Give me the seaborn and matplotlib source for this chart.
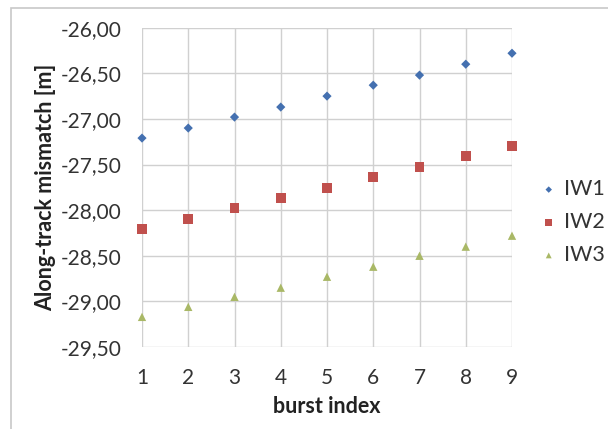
import numpy as np
import pandas as pd
import matplotlib
matplotlib.use("Agg")
import matplotlib.pyplot as plt
import seaborn as sns
from matplotlib.ticker import FuncFormatter
from matplotlib.patches import Rectangle

# Values
burst = [1, 2, 3, 4, 5, 6, 7, 8, 9]
iw1 = [-27.21, -27.10, -26.98, -26.87, -26.75, -26.63, -26.52, -26.40, -26.28]
iw2 = [-28.21, -28.10, -27.98, -27.87, -27.76, -27.64, -27.53, -27.41, -27.30]
iw3 = [-29.17, -29.06, -28.95, -28.85, -28.73, -28.62, -28.50, -28.40, -28.28]
series_names = ["IW1", "IW2", "IW3"]
yticks = [-29.5, -29.0, -28.5, -28.0, -27.5, -27.0, -26.5, -26.0]

df = pd.DataFrame({
    "burst index": burst * 3,
    "mismatch": iw1 + iw2 + iw3,
    "series": np.repeat(series_names, len(burst)),
})

sns.set_theme(style="white")
plt.rcParams["font.family"] = ["Lato", "DejaVu Sans"]

fig = plt.figure(figsize=(6.08, 4.29), dpi=100)
ax = fig.add_axes([142 / 608, 1 - 347 / 429, 370 / 608, (347 - 27.7) / 429])

# outer chart border like the spreadsheet frame
fig.patches.append(Rectangle((11 / 608, -0.02), 1, 1 - 8 / 429 + 0.02,
                             transform=fig.transFigure, fill=False,
                             edgecolor="#c8c8c8", linewidth=1.2))

palette = {"IW1": "#4470B0", "IW2": "#C0504D", "IW3": "#A9B866"}
markers = {"IW1": "D", "IW2": "s", "IW3": "^"}
sizes = {"IW1": 22, "IW2": 50, "IW3": 36}

for name in series_names:
    sub = df[df["series"] == name]
    sns.scatterplot(data=sub, x="burst index", y="mismatch", ax=ax,
                    color=palette[name], marker=markers[name], s=sizes[name],
                    edgecolor="none", label=name, clip_on=False, zorder=3)

ax.set_xlim(1, 9)
ax.set_ylim(-29.5, -26.0)
ax.set_xticks(burst)
ax.set_yticks(yticks)
ax.yaxis.set_major_formatter(FuncFormatter(lambda v, p: f"{v:.2f}".replace(".", ",")))
ax.grid(True, color="#d0d0d0", linewidth=1.0)
ax.set_axisbelow(True)
for sp in ax.spines.values():
    sp.set_visible(False)
ax.tick_params(axis="y", length=6, width=1, color="#d0d0d0", direction="out",
               labelsize=15, labelcolor="#333333", pad=9)
ax.tick_params(axis="x", length=4, width=1, color="#d0d0d0", direction="out",
               labelsize=15, labelcolor="#333333", pad=11)

ax.set_xlabel("burst index", fontsize=15.5, fontweight="bold", color="#222222", labelpad=6)
ax.set_ylabel("Along-track mismatch [m]", fontsize=15.5, fontweight="bold",
              color="#222222", labelpad=3)

leg = ax.legend(loc="center left", bbox_to_anchor=(1.076, 0.391), frameon=False,
                fontsize=15.5, handlelength=0.8, handletextpad=0.3,
                labelspacing=0.6, markerscale=0.7, borderaxespad=0,
                borderpad=0)
for t in leg.get_texts():
    t.set_color("#333333")

fig.savefig("out.png", dpi=100)
